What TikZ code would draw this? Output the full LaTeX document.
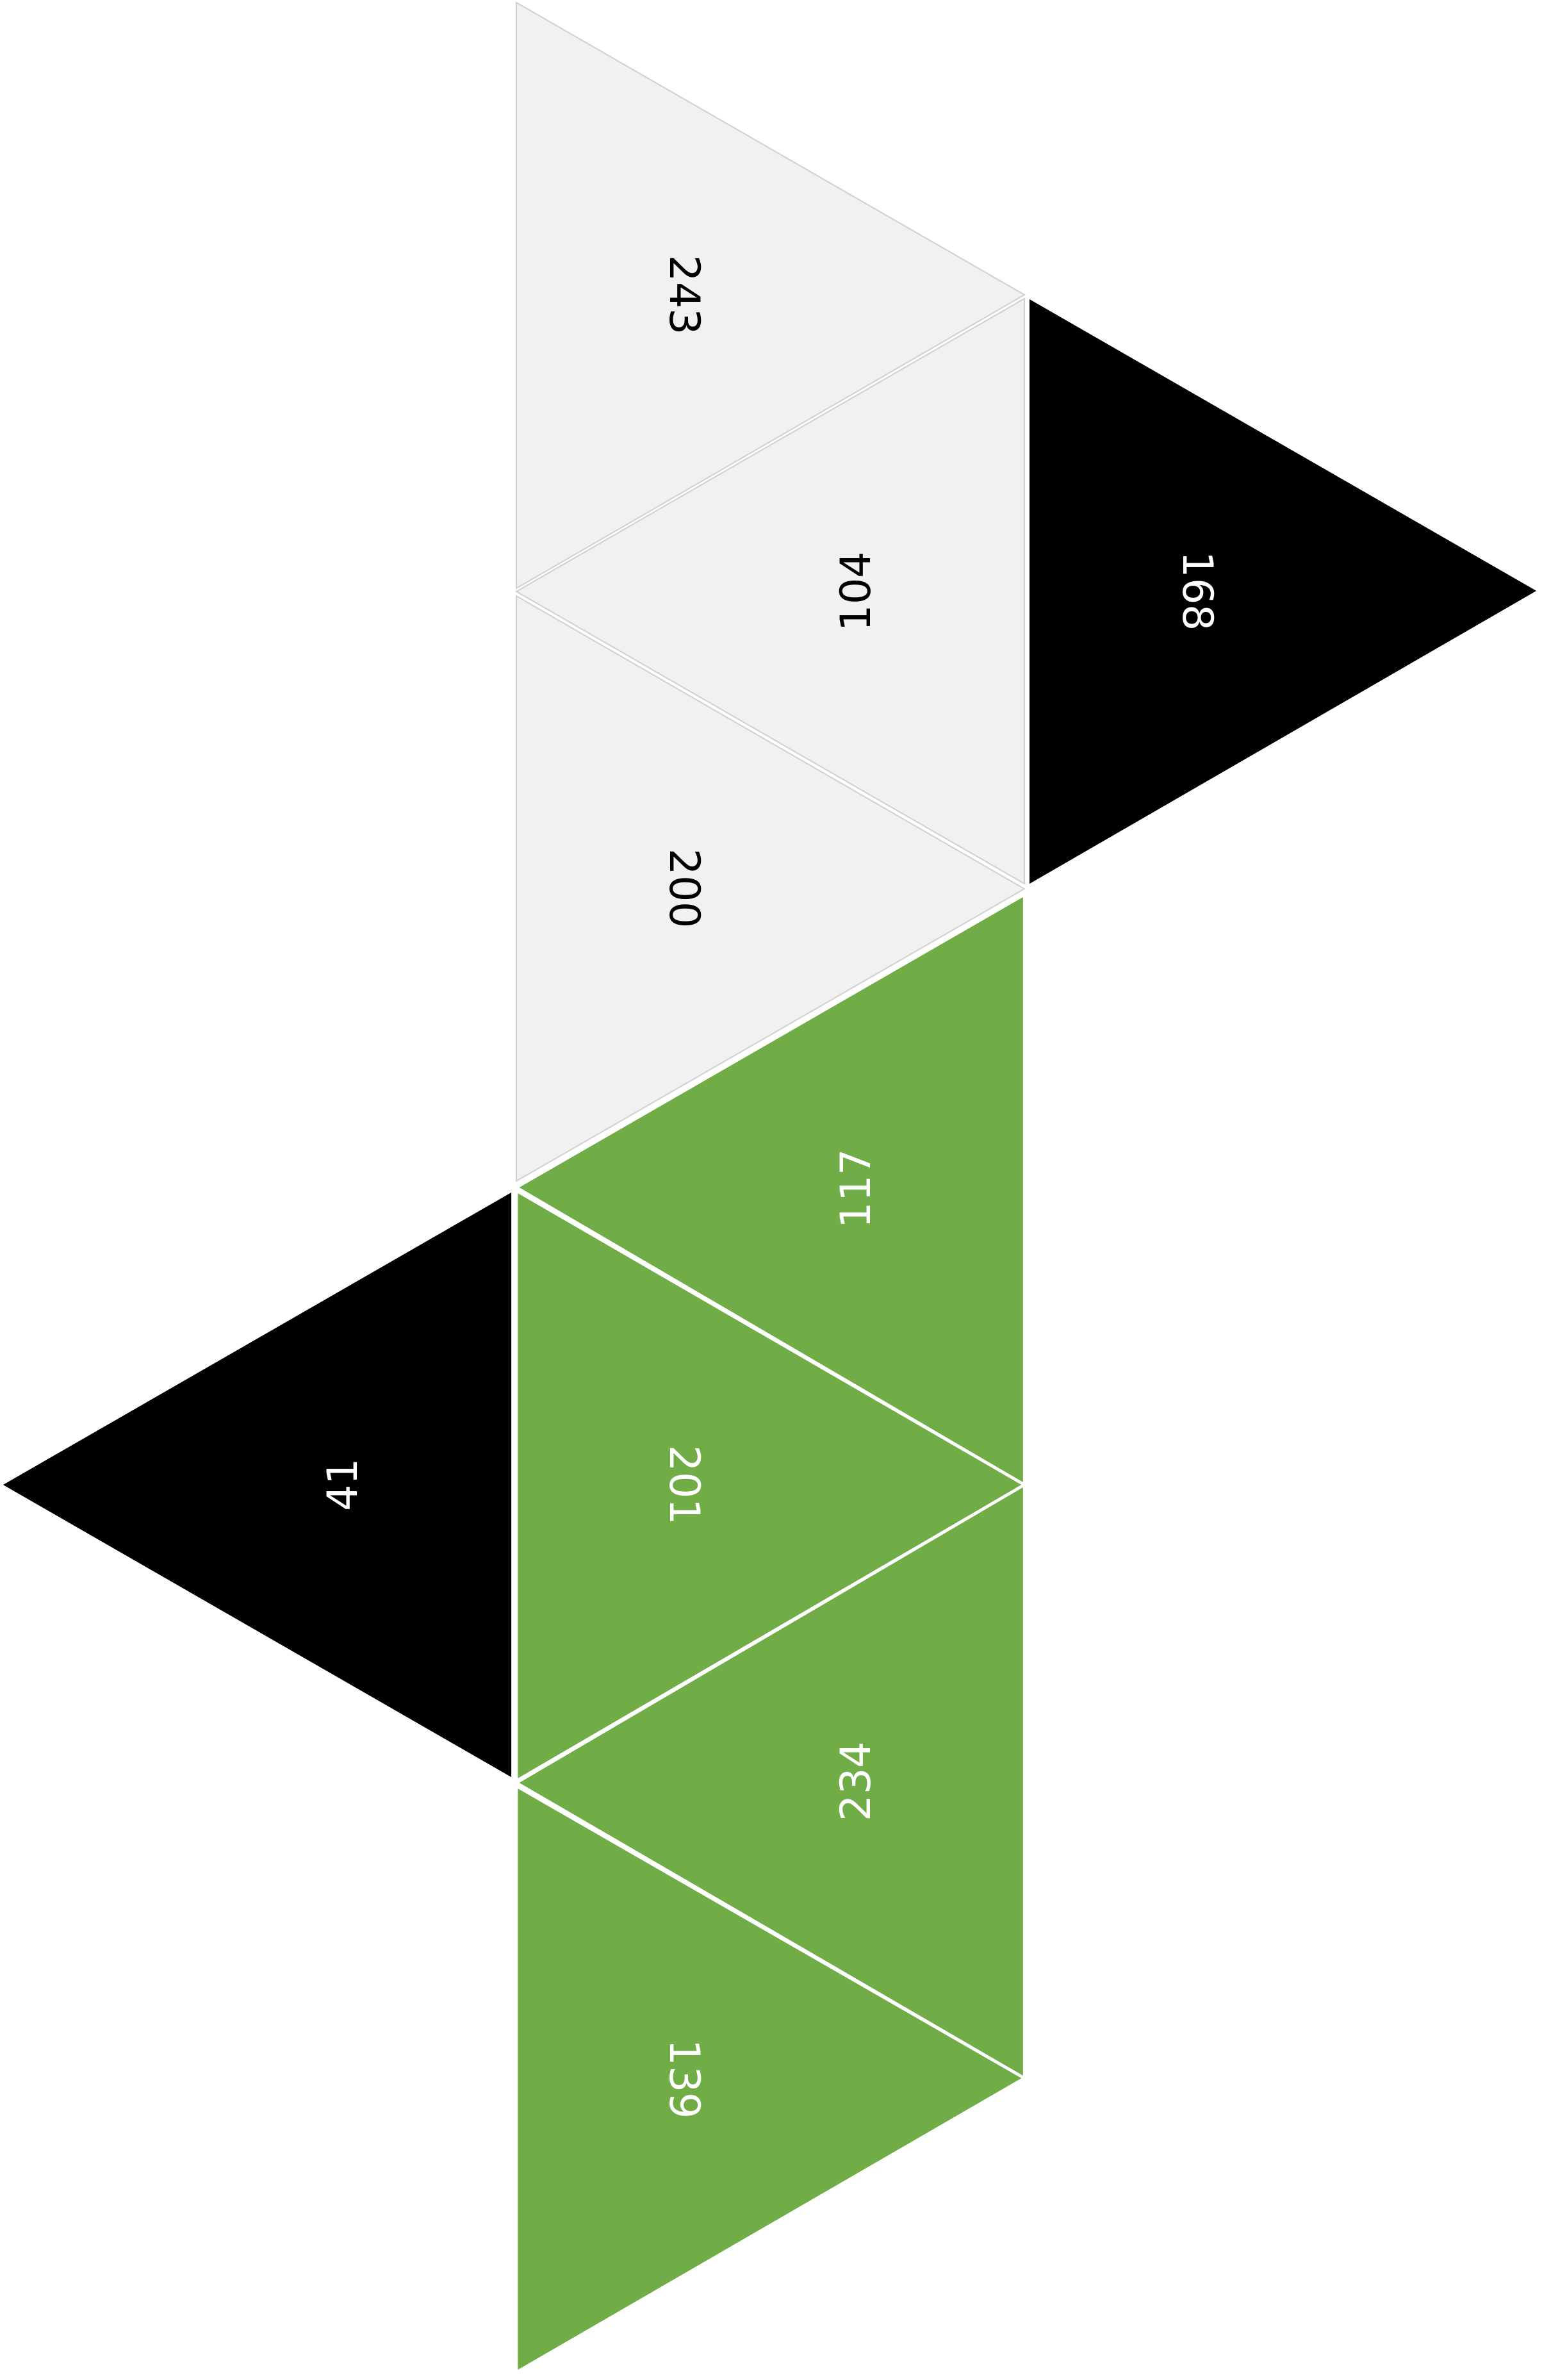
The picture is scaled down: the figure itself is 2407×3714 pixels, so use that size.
\documentclass[tikz,border=0pt]{standalone}
\usepackage{fontspec}
\setmainfont{DejaVu Sans}
\definecolor{facegray}{HTML}{F1F1F1}
\definecolor{edgegray}{HTML}{D2D2D2}
\definecolor{facegreen}{HTML}{70AD47}
\begin{document}
\begin{tikzpicture}[x=0.01cm,y=-0.01cm,
  graytri/.style={fill=facegray,draw=edgegray,line width=0.02cm,line join=miter},
  greentri/.style={fill=facegreen,draw=white,line width=0.045cm,line join=round},
  blacktri/.style={fill=black,draw=none},
  lbl/.style={font=\fontsize{18.5pt}{22pt}\selectfont,inner sep=0pt,anchor=center},
  lbldark/.style={lbl,text=black},
  lbllight/.style={lbl,text=white}]
\useasboundingbox (0,0) rectangle (2407,3714);
% gray faces
\draw[graytri] (806,4) -- (1599,460) -- (806,918) -- cycle;
\draw[graytri] (1599,466) -- (806,923) -- (1599,1379) -- cycle;
\draw[graytri] (806,930) -- (1599,1387) -- (806,1843) -- cycle;
% black faces
\draw[blacktri] (1607,467) -- (2398,922) -- (1607,1379) -- cycle;
\draw[blacktri] (798,1861) -- (5,2317) -- (798,2773) -- cycle;
% green faces
\draw[greentri] (1599,1396) -- (806,1853) -- (1599,2317) -- cycle;
\draw[greentri] (806,1858) -- (1599,2317) -- (806,2779) -- cycle;
\draw[greentri] (1599,2317) -- (806,2782) -- (1599,3243) -- cycle;
\draw[greentri] (806,2787) -- (1599,3243) -- (806,3702) -- cycle;
% labels
\node[lbldark,rotate=-90] (l243) at (1070,461) {243};
\node[lbldark,rotate=90] (l104) at (1335,923) {104};
\node[lbllight,rotate=-90] (l168) at (1871,923) {168};
\node[lbldark,rotate=-90] (l200) at (1070,1387) {200};
\node[lbllight,rotate=90] (l117) at (1335,1855) {117};
\node[lbllight,rotate=90] (l41) at (534,2317) {41};
\node[lbllight,rotate=-90] (l201) at (1070,2318) {201};
\node[lbllight,rotate=90] (l234) at (1335,2780) {234};
\node[lbllight,rotate=-90] (l139) at (1070,3245) {139};
\end{tikzpicture}
\end{document}
